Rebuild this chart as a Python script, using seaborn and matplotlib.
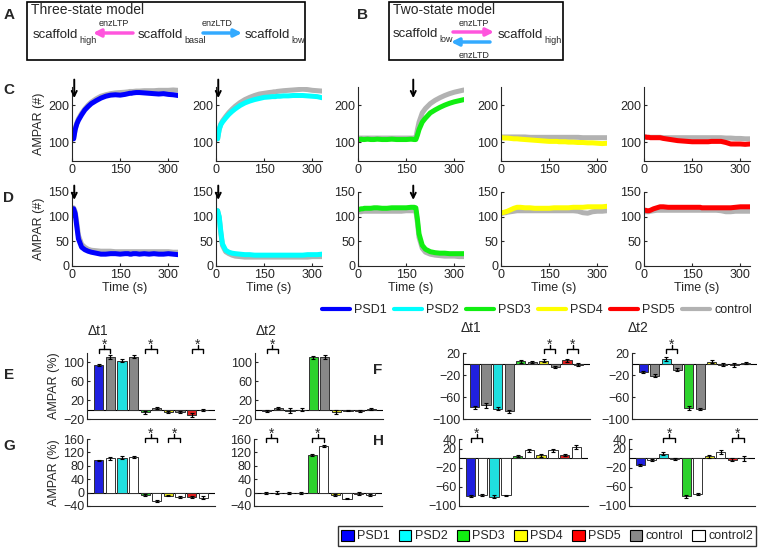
import numpy as np
import pandas as pd
import matplotlib
matplotlib.use("Agg")
import matplotlib.pyplot as plt
import seaborn as sns
from matplotlib.lines import Line2D
from matplotlib.patches import Patch, Rectangle

sns.set_style("ticks")
plt.rcParams['font.family'] = ['Liberation Sans', 'DejaVu Sans']
plt.rcParams['axes.linewidth'] = 0.8

W, H = 760, 548

# ---- time traces (panels C, D) ----
T = [0, 5, 10, 15, 20, 30, 40, 50, 60, 75, 90, 105, 120, 135, 150, 165, 175, 180,
     185, 190, 200, 210, 225, 240, 255, 270, 285, 300, 315, 330]

C1 = [110, 110, 135, 150, 160, 175, 188, 197, 205, 213, 220, 225, 228, 229, 228, 230, 232, 233,
      233, 234, 235, 235, 234, 233, 232, 231, 232, 230, 229, 227]
C1_ctrl = [110, 110, 138, 153, 164, 179, 191, 201, 209, 218, 225, 229, 232, 234, 235, 236, 237, 238,
           238, 238, 239, 239, 240, 240, 240, 241, 241, 241, 242, 241]
C2 = [110, 110, 135, 148, 155, 166, 176, 184, 191, 200, 207, 212, 216, 219, 222, 223, 224, 224,
      224, 225, 225, 226, 226, 227, 227, 227, 226, 225, 224, 221]
C2_ctrl = [110, 110, 137, 150, 158, 170, 181, 190, 198, 208, 216, 222, 227, 231, 233, 235, 236, 237,
           237, 238, 239, 240, 241, 242, 243, 244, 243, 241, 240, 239]
C3 = [108, 108, 109, 108, 108, 109, 108, 108, 109, 108, 108, 109, 108, 108, 108, 109, 108, 108,
      120, 135, 155, 166, 180, 188, 195, 201, 206, 210, 213, 216]
C3_ctrl = [112, 112, 112, 112, 112, 112, 112, 112, 112, 112, 112, 112, 112, 112, 112, 112, 112, 112,
           135, 155, 180, 192, 205, 214, 221, 227, 232, 236, 239, 242]
C4 = [113, 113, 112, 112, 112, 111, 110, 110, 109, 108, 107, 106, 105, 104, 103, 103, 103, 102,
      102, 102, 102, 101, 101, 100, 100, 99, 99, 98, 97, 98]
C4_ctrl = [115, 115, 115, 115, 115, 115, 115, 115, 115, 115, 114, 114, 114, 114, 114, 114, 114, 114,
           114, 114, 114, 114, 114, 114, 113, 113, 113, 113, 113, 113]
C5 = [115, 115, 114, 114, 113, 113, 113, 113, 111, 109, 107, 105, 104, 103, 102, 102, 102, 102,
      102, 102, 102, 103, 103, 103, 100, 96, 96, 96, 95, 96]
C5_ctrl = [114, 114, 114, 114, 114, 114, 114, 114, 113, 113, 113, 113, 113, 113, 113, 113, 113, 113,
           113, 113, 113, 113, 113, 113, 112, 112, 111, 111, 110, 110]

D1 = [116, 116, 106, 80, 55, 38, 33, 30, 28, 26, 24, 24, 25, 25, 24, 25, 25, 24,
      24, 25, 25, 24, 25, 24, 25, 24, 24, 25, 24, 23]
D1_ctrl = [118, 118, 110, 88, 62, 44, 38, 34, 32, 31, 30, 30, 30, 29, 29, 29, 29, 29,
           29, 29, 29, 29, 29, 29, 29, 29, 29, 29, 28, 28]
D2 = [112, 112, 100, 70, 45, 32, 28, 26, 25, 24, 23, 23, 22, 22, 22, 22, 22, 22,
      22, 22, 22, 22, 22, 22, 22, 22, 23, 23, 23, 24]
D2_ctrl = [112, 112, 98, 66, 42, 29, 25, 22, 20, 19, 18, 18, 18, 18, 18, 18, 18, 18,
           18, 18, 18, 18, 18, 18, 18, 18, 18, 19, 19, 19]
D3 = [114, 115, 116, 116, 117, 117, 117, 118, 118, 117, 117, 118, 118, 118, 118, 119, 119, 118,
      95, 65, 42, 34, 29, 27, 26, 26, 25, 25, 25, 25]
D3_ctrl = [110, 110, 110, 111, 111, 111, 111, 111, 111, 111, 111, 111, 111, 111, 112, 112, 112, 112,
           88, 58, 36, 28, 24, 22, 21, 20, 20, 20, 19, 19]
D4 = [108, 108, 109, 110, 111, 114, 117, 119, 119, 118, 118, 117, 117, 117, 117, 118, 118, 118,
      118, 118, 118, 118, 119, 119, 119, 120, 120, 120, 120, 121]
D4_ctrl = [107, 107, 108, 108, 109, 110, 111, 112, 112, 112, 112, 112, 112, 112, 112, 112, 112, 112,
           112, 112, 112, 112, 112, 111, 108, 107, 110, 111, 111, 112]
D5 = [113, 113, 112, 112, 113, 116, 118, 120, 120, 119, 119, 119, 119, 119, 119, 119, 119, 118,
      118, 118, 118, 118, 118, 118, 118, 118, 119, 120, 120, 120]
D5_ctrl = [110, 110, 110, 110, 111, 112, 113, 113, 113, 113, 113, 113, 113, 113, 113, 113, 113, 113,
           113, 113, 113, 113, 113, 112, 110, 110, 111, 111, 111, 111]

stim_C = [7, 7, 172, None, None]
stim_D = [7, 7, 172, None, None]

# ---- bar data (panels E-H), order: PSD1, ctrl, PSD2, ctrl, ... PSD5, ctrl ----
E1 = [95, 112, 104, 112, -6, 4, -6, -5, -11, -1]
E1_err = [2, 4, 4, 3, 3, 2, 2, 2, 4, 2]
E2 = [-3, 3, -2, 0, 111, 112, -5, -2, -3, 1]
E2_err = [3, 2, 5, 4, 3, 4, 4, 2, 3, 2]
F1 = [-79, -75, -81, -86, 5, 4, 6, -6, 7, -1]
F1_err = [3, 5, 3, 3, 3, 2, 3, 2, 3, 2]
F2 = [-15, -21, 9, -10, -80, -82, 4, -1, -2, 2]
F2_err = [2, 3, 3, 2, 4, 2, 3, 2, 3, 2]
G1 = [96, 102, 104, 106, -7, -26, -9, -14, -13, -15]
G1_err = [2, 4, 4, 2, 2, 3, 2, 3, 4, 4]
G2 = [-2, 0, -1, 0, 111, 139, -6, -18, -3, -8]
G2_err = [3, 4, 4, 3, 3, 3, 3, 2, 4, 3]
H1 = [-80, -77, -81, -78, 5, 16, 6, 16, 7, 23]
H1_err = [2, 3, 3, 2, 2, 4, 3, 3, 2, 4]
H2 = [-14, -4, 9, -2, -80, -75, 4, 13, -3, 0]
H2_err = [2, 2, 3, 2, 3, 2, 3, 4, 3, 5]

E1_sig = [(0, 1), (4, 5), (8, 9)]
E2_sig = [(0, 1)]
F1_sig = [(6, 7), (8, 9)]
F2_sig = [(2, 3)]
G1_sig = [(4, 5), (6, 7)]
G2_sig = [(0, 1), (4, 5)]
H1_sig = [(0, 1)]
H2_sig = [(2, 3), (8, 9)]

psd_names = ['PSD1', 'PSD2', 'PSD3', 'PSD4', 'PSD5']
psd_colors = ['#0000ff', '#00ffff', '#11ee11', '#ffff00', '#ff0000']
trace_gray = '#b2b2b2'
bar_gray = '#888888'

fig = plt.figure(figsize=(W / 100, H / 100), dpi=100)


def px_axes(x0, x1, y0, y1):
    return fig.add_axes([x0 / W, 1 - y1 / H, (x1 - x0) / W, (y1 - y0) / H])


def style(ax):
    for s in ['top', 'right']:
        ax.spines[s].set_visible(False)
    ax.tick_params(direction='in', length=2, labelsize=9, pad=2, width=0.8)


# overlay in pixel coords for diagrams and panel letters (kept on top)
ov = fig.add_axes([0, 0, 1, 1])
ov.set_xlim(0, W)
ov.set_ylim(H, 0)
ov.axis('off')
ov.set_zorder(10)

magenta = '#ff55dd'
skyblue = '#33aaff'


def scaffold(x, y, sub):
    ov.text(x, y, 'scaffold', fontsize=9.5, va='baseline')
    ov.text(x + 46, y + 5, sub, fontsize=6.5, va='baseline')


def arrow(x0, x1, y, color):
    ov.annotate('', xy=(x1, y), xytext=(x0, y),
                arrowprops=dict(arrowstyle='-|>', color=color, lw=2.5, mutation_scale=11,
                                shrinkA=0, shrinkB=0))


ov.add_patch(Rectangle((27, 2), 278, 58, fill=False, lw=1.2, ec='k'))
ov.text(31, 10, 'Three-state model', fontsize=10, va='center')
scaffold(33, 38, 'high')
scaffold(138, 38, 'basal')
scaffold(245, 38, 'low')
ov.text(114, 24, 'enzLTP', fontsize=6.5, ha='center', va='center')
ov.text(217, 24, 'enzLTD', fontsize=6.5, ha='center', va='center')
arrow(133, 93, 33, magenta)
arrow(203, 242, 33, skyblue)

ov.add_patch(Rectangle((389, 2), 174, 58, fill=False, lw=1.2, ec='k'))
ov.text(393, 10, 'Two-state model', fontsize=10, va='center')
scaffold(393, 37, 'low')
scaffold(498, 38, 'high')
ov.text(474, 24, 'enzLTP', fontsize=6.5, ha='center', va='center')
ov.text(474, 55, 'enzLTD', fontsize=6.5, ha='center', va='center')
arrow(453, 494, 32, magenta)
arrow(490, 451, 42, skyblue)

for lab, x, y in [('A', 9, 15), ('B', 362, 15), ('C', 9, 90), ('D', 9, 198),
                  ('E', 9, 375), ('F', 378, 370), ('G', 9, 446), ('H', 378, 441)]:
    ov.text(x, y, lab, fontsize=11, fontweight='bold', ha='center', va='center')

# ---- rows C and D ----
col_x = [72, 216, 358, 501, 644]
C_series = [(C1, C1_ctrl), (C2, C2_ctrl), (C3, C3_ctrl), (C4, C4_ctrl), (C5, C5_ctrl)]
D_series = [(D1, D1_ctrl), (D2, D2_ctrl), (D3, D3_ctrl), (D4, D4_ctrl), (D5, D5_ctrl)]

for i in range(5):
    for row, (y0, y1) in enumerate([(87, 161), (192, 266)]):
        ax = px_axes(col_x[i], col_x[i] + 106, y0, y1)
        psd, ctrl = (C_series if row == 0 else D_series)[i]
        df = pd.DataFrame({'t': T, 'psd': psd, 'ctrl': ctrl})
        sns.lineplot(data=df, x='t', y='ctrl', color=trace_gray, lw=3.6, ax=ax)
        sns.lineplot(data=df, x='t', y='psd', color=psd_colors[i], lw=3.6, ax=ax)
        ax.set_xlim(0, 330)
        ax.set_xticks([0, 150, 300])
        if row == 0:
            ax.set_ylim(50, 250)
            ax.set_yticks([100, 200])
            tip, tail = 220, 270
            ax.set_xlabel('')
        else:
            ax.set_ylim(0, 150)
            ax.set_yticks([0, 50, 100, 150])
            tip, tail = 134, 163
            ax.set_xlabel('Time (s)', fontsize=9, labelpad=1)
        ax.set_ylabel('AMPAR (#)' if i == 0 else '', fontsize=9, labelpad=2)
        stim = (stim_C if row == 0 else stim_D)[i]
        if stim is not None:
            ax.annotate('', xy=(stim, tip), xytext=(stim, tail), annotation_clip=False,
                        arrowprops=dict(arrowstyle='->', color='k', lw=1.4, mutation_scale=9,
                                        shrinkA=0, shrinkB=0))
        style(ax)

# legend for traces
line_handles = [Line2D([], [], color=c, lw=3) for c in psd_colors] + \
    [Line2D([], [], color=trace_gray, lw=3)]
fig.legend(line_handles, psd_names + ['control'], loc='center',
           bbox_to_anchor=(537 / W, 1 - 310 / H), ncol=6, frameon=False, fontsize=9,
           handlelength=2.2, columnspacing=0.6, handletextpad=0.35, borderpad=0.1)


# ---- bar panels ----
def bar_panel(box, vals, errs, sig, ctrl_color, ylim, yticks, ylabel, sig_y):
    ax = px_axes(*box)
    cats = [f'b{k}' for k in range(10)]
    cols = []
    for c in psd_colors:
        cols += [c, ctrl_color]
    df = pd.DataFrame({'cat': cats, 'val': vals})
    sns.barplot(data=df, x='cat', y='val', hue='cat', palette=cols, width=0.8,
                edgecolor='#333333', linewidth=0.7, legend=False, errorbar=None, ax=ax)
    ax.errorbar(range(10), vals, yerr=errs, fmt='none', ecolor='k', elinewidth=0.9,
                capsize=1.5, capthick=0.8)
    ax.axhline(0, color='k', lw=0.8, zorder=0.5)
    ax.set_xlim(-1, 10)
    ax.set_ylim(*ylim)
    ax.set_yticks(yticks)
    ax.set_xticks([])
    ax.set_xlabel('')
    ax.set_ylabel(ylabel, fontsize=9, labelpad=2)
    ax.patch.set_alpha(0)
    tr = ax.get_xaxis_transform()
    for a, b in sig:
        ax.plot([a, a, b, b], [sig_y - 0.06, sig_y, sig_y, sig_y - 0.06], color='k', lw=1.0,
                transform=tr, clip_on=False)
        m = (a + b) / 2
        ax.plot([m, m], [sig_y, sig_y + 0.06], color='k', lw=1.0, transform=tr, clip_on=False)
        ax.text(m, sig_y + 0.005, '*', fontsize=10, ha='center', va='baseline', transform=tr)
    style(ax)
    ax.tick_params(axis='x', length=0)
    return ax


bar_panel((87, 215, 353, 419), E1, E1_err, E1_sig, bar_gray, (-20, 120), [-20, 20, 60, 100], 'AMPAR (%)', 1.06)
bar_panel((255, 383, 353, 419), E2, E2_err, E2_sig, bar_gray, (-20, 120), [-20, 20, 60, 100], '', 1.06)
bar_panel((463, 590, 353, 419), F1, F1_err, F1_sig, bar_gray, (-100, 20), [-100, -60, -20, 20], '', 1.06)
bar_panel((632, 757, 353, 419), F2, F2_err, F2_sig, bar_gray, (-100, 20), [-100, -60, -20, 20], '', 1.06)
bar_panel((87, 215, 439, 506), G1, G1_err, G1_sig, 'white', (-40, 160), [-40, 0, 40, 80, 120, 160], 'AMPAR (%)', 1.01)
bar_panel((254, 382, 439, 506), G2, G2_err, G2_sig, 'white', (-40, 160), [-40, 0, 40, 80, 120, 160], '', 1.01)
bar_panel((459, 588, 439, 506), H1, H1_err, H1_sig, 'white', (-100, 40), [-100, -60, -20, 20, 40], '', 1.01)
bar_panel((629, 755, 439, 506), H2, H2_err, H2_sig, 'white', (-100, 40), [-100, -60, -20, 20, 40], '', 1.01)

for x, y, s in [(98, 331, '\u0394t1'), (266, 331, '\u0394t2'), (471, 328, '\u0394t1'), (638, 328, '\u0394t2')]:
    ov.text(x, y, s, fontsize=10, ha='center', va='center')

# legend for bars
patch_handles = [Patch(facecolor=c, edgecolor='k', lw=0.8) for c in psd_colors] + \
    [Patch(facecolor=bar_gray, edgecolor='k', lw=0.8), Patch(facecolor='white', edgecolor='k', lw=0.8)]
leg = fig.legend(patch_handles, psd_names + ['control', 'control2'], loc='center',
                 bbox_to_anchor=(547 / W, 1 - 536 / H), ncol=7, frameon=True, fancybox=False,
                 edgecolor='k', fontsize=9, handlelength=1.0, handleheight=1.0,
                 columnspacing=0.75, handletextpad=0.25, borderpad=0.25, borderaxespad=0)
leg.get_frame().set_linewidth(1.0)

fig.savefig('out.png', dpi=100)
